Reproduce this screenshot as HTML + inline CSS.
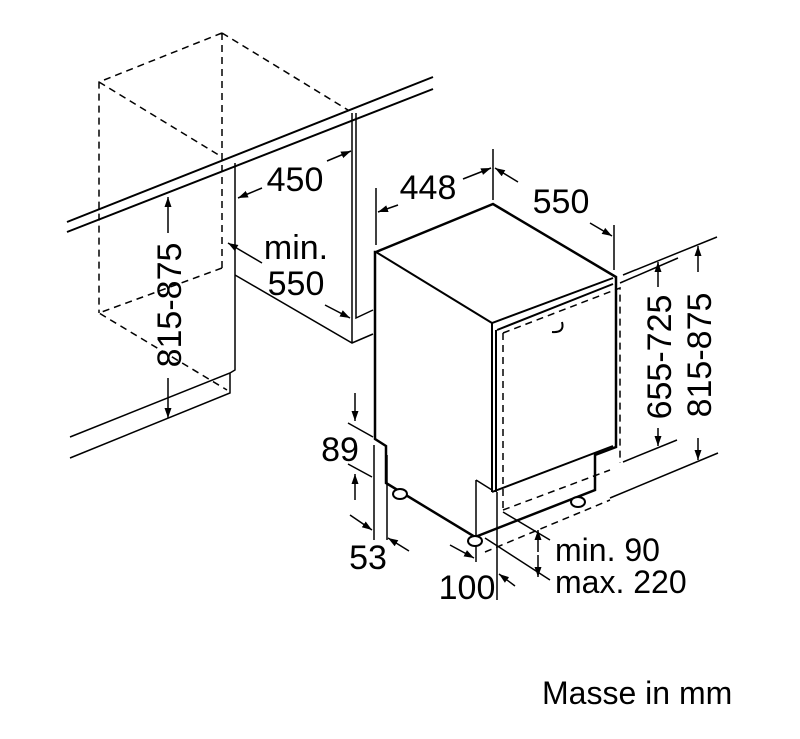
<!DOCTYPE html>
<html><head><meta charset="utf-8"><style>
html,body{margin:0;padding:0;background:#fff;}
svg{display:block;}
text{font-family:"Liberation Sans",sans-serif;fill:#000;}
</style></head><body>
<svg width="800" height="739" viewBox="0 0 800 739" xmlns="http://www.w3.org/2000/svg">
<defs>
<marker id="a" viewBox="0 0 10 10" refX="10" refY="5" markerWidth="10" markerHeight="10" markerUnits="userSpaceOnUse" orient="auto"><path d="M0,1.5 L10,5 L0,8.5 Z" fill="#000"/></marker>
</defs>
<g fill="none" stroke="#000" stroke-width="1.5">
<g stroke-dasharray="7,5">
<path d="M222,33 L99,82 L99,313 M222,33 L222,268 M222,33 L348,110 M99,82 L222,157 M222,268 L99,313 L227,390"/>
<path d="M503,333 L503,510 M503,333 L620,288 L620,463 M503,510 L610,470 M485,552 L610,500"/>
</g>
<path d="M67,222 L433,77 M67,232 L433,89" stroke-width="2"/>
<path d="M235,163 L235,370 L230,373 L70,437 M230,373 L230,393 L70,458"/>
<path d="M235,275 L352,343 L373,334 M352,113 L352,343 M356,113 L356,318 L373,310"/>
<g stroke-width="2.5">
<path d="M376,252 L493,204 L616,277 L616,447 L595,455 L595,490 L475,537 L386,483 L386,446 L375,439 L375,252 Z"/>
</g>
<path d="M376,252 L492,323 L613,278 M492,323 L492,492 M496,330 L496,492 M497,330 L613,284 M492,492 L613,446" stroke-width="2"/>
<path d="M476,480 L492,490 M476,480 L476,562 M497,492 L497,600"/>
<path d="M552,332 Q565,333 562,322" stroke-width="2"/>
<ellipse cx="400" cy="494" rx="7" ry="5" stroke-width="2" fill="#fff"/>
<ellipse cx="475" cy="541" rx="7" ry="5" stroke-width="2" fill="#fff"/>
<ellipse cx="578" cy="502" rx="7" ry="5" stroke-width="2" fill="#fff"/>
<path d="M493,149 L493,200 M376,188 L376,245 M614,225 L614,270"/>
<path d="M398,205 L378,212" marker-end="url(#a)"/>
<path d="M463,179 L491,168" marker-end="url(#a)"/>
<path d="M518,182 L495,168" marker-end="url(#a)"/>
<path d="M590,223 L612,236" marker-end="url(#a)"/>
<path d="M623,275 L717,237 M620,283 L678,258 M623,462 L677,440 M610,498 L718,453"/>
<path d="M658,287 L658,262" marker-end="url(#a)"/>
<path d="M658,428 L658,446" marker-end="url(#a)"/>
<path d="M698,272 L698,246" marker-end="url(#a)"/>
<path d="M698,438 L698,460" marker-end="url(#a)"/>
<path d="M262,188 L238,198" marker-end="url(#a)"/>
<path d="M327,161 L351,151" marker-end="url(#a)"/>
<path d="M262,263 L228,243" marker-end="url(#a)"/>
<path d="M325,305 L350,318" marker-end="url(#a)"/>
<path d="M168,233 L168,197" marker-end="url(#a)"/>
<path d="M168,378 L168,418" marker-end="url(#a)"/>
<path d="M348,423 L373,437 M348,464 L372,477 M374,445 L374,540 M387,455 L387,540"/>
<path d="M355,393 L355,421" marker-end="url(#a)"/>
<path d="M355,500 L355,474" marker-end="url(#a)"/>
<path d="M350,515 L372,530" marker-end="url(#a)"/>
<path d="M409,551 L388,538" marker-end="url(#a)"/>
<path d="M450,545 L474,558" marker-end="url(#a)"/>
<path d="M515,586 L499,574" marker-end="url(#a)"/>
<path d="M503,512 L550,540 M485,538 L550,580"/>
<path d="M538,552 L538,530" marker-end="url(#a)"/>
<path d="M538,555 L538,577" marker-end="url(#a)"/>
</g>
<g font-size="34">
<text x="295" y="191" text-anchor="middle">450</text>
<text x="296" y="259" text-anchor="middle">min.</text>
<text x="296" y="295" text-anchor="middle">550</text>
<text x="428" y="199" text-anchor="middle">448</text>
<text x="561" y="213" text-anchor="middle">550</text>
<text x="340" y="461" text-anchor="middle">89</text>
<text x="368" y="569" text-anchor="middle">53</text>
<text x="467" y="599" text-anchor="middle">100</text>
<text x="555" y="561" font-size="32">min. 90</text>
<text x="555" y="593" font-size="32">max. 220</text>
<text transform="translate(181,305) rotate(-90)" text-anchor="middle">815-875</text>
<text transform="translate(671,357) rotate(-90)" text-anchor="middle">655-725</text>
<text transform="translate(711,355) rotate(-90)" text-anchor="middle">815-875</text>
<text x="542" y="704" font-size="32">Masse in mm</text>
</g>
</svg>
</body></html>
